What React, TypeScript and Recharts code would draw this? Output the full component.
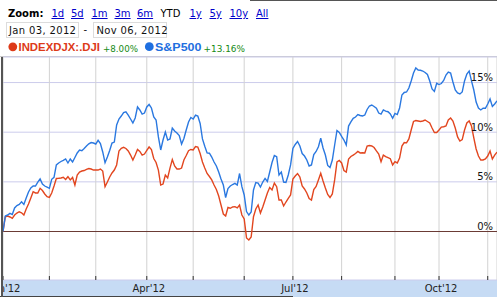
import React from 'react';
import { LineChart, Line, XAxis, YAxis, CartesianGrid, ReferenceLine } from 'recharts';

// Percent change since start, one value per trading session (Jan 3 .. Nov 6, 2012)
const djiValues = [
  0, 1.49, 1.56, 1.46, 1.33, 1.66, 1.86, 1.99, 1.89, 1.66,
  2.27, 2.77, 3.37, 4.01, 3.88, 3.88, 4.35, 4.13, 3.78, 3.5,
  3.44, 3.88, 4.58, 5.34, 5.36, 5.39, 5.46, 5.24, 5.52, 5.19,
  5.44, 4.68, 5.69, 5.99, 6.09, 6.14, 6.26, 6.34, 6.29, 6.19,
  6.19, 6.19, 6.29, 6.09, 4.51, 4.98, 5.49, 5.89, 6.19, 6.7,
  8.11, 8.38, 8.48, 8.36, 8.11, 7.7, 7.2, 7.7, 8.26, 8.06,
  7.7, 7.8, 8.16, 8.51, 8.26, 7.35, 6.95, 6.19, 4.68, 4.78,
  5.69, 5.39, 6.39, 7.25, 6.6, 6.29, 6.29, 6.39, 7.2, 7.65,
  8.14, 8.26, 8.21, 8.56, 8.51, 7.85, 7.0, 6.39, 5.84, 5.54,
  5.19, 4.68, 4.23, 3.58, 2.67, 1.76, 1.56, 2.42, 2.34, 2.47,
  2.5, 2.37, 2.67, 1.66, 1.26, -0.65, -0.86, -0.55, 1.49, 2.27,
  2.67, 1.86, 2.47, 3.17, 3.88, 4.43, 4.18, 4.88, 4.51, 3.17,
  3.17, 2.57, 2.97, 3.34, 3.68, 5.29, 5.59, 5.84, 5.49, 4.58,
  4.28, 3.88, 3.32, 3.17, 4.23, 4.53, 5.19, 5.86, 5.09, 4.38,
  3.73, 3.42, 3.78, 5.19, 7.0, 7.15, 6.9, 6.14, 5.99, 7.3,
  7.55, 7.7, 7.85, 8.06, 7.91, 7.93, 7.91, 8.61, 8.66, 8.61,
  8.46, 8.11, 7.8, 7.03, 7.7, 7.55, 7.45, 7.33, 6.7, 7.03,
  6.9, 7.4, 8.61, 8.96, 8.93, 9.32, 10.22, 11.08, 11.18, 11.13,
  11.08, 11.13, 11.23, 11.08, 10.93, 10.42, 9.97, 9.97, 10.22, 10.52,
  10.55, 10.62, 11.23, 11.43, 11.13, 10.42, 9.52, 9.11, 9.26, 10.22,
  10.93, 11.13, 10.62, 9.42, 8.31, 7.6, 7.2, 7.2, 7.3, 7.6,
  8.11, 7.3, 7.7, 8.0,
];

const spxValues = [
  0, 1.56, 1.66, 1.83, 1.71, 2.37, 2.62, 2.72, 2.99, 2.72,
  3.37, 3.98, 4.38, 4.58, 4.58, 4.98, 5.29, 4.78, 4.58, 4.48,
  4.35, 5.26, 5.46, 6.7, 6.9, 7.05, 7.17, 7.3, 6.9, 7.3,
  7.0, 7.45, 7.91, 8.21, 8.14, 8.36, 8.61, 8.83, 8.96, 8.91,
  8.81, 9.18, 8.86, 8.01, 6.93, 7.5, 8.16, 8.91, 9.01, 10.73,
  11.33, 11.63, 11.98, 12.06, 11.73, 11.33, 10.93, 11.43, 12.54, 12.24,
  11.83, 11.93, 12.54, 12.79, 12.44, 11.53, 11.23, 9.52, 8.21, 9.21,
  10.02, 9.21, 9.32, 10.42, 10.12, 9.92, 9.67, 8.81, 9.37, 10.22,
  11.03, 11.48, 11.33, 11.73, 11.63, 10.88, 9.32, 8.58, 7.91, 7.88,
  7.5, 7.0, 6.6, 5.99, 5.29, 4.68, 3.42, 4.33, 4.58, 4.73,
  4.85, 4.68, 5.84, 4.51, 3.68, 2.01, 1.66, 1.96, 4.18, 4.93,
  4.88, 4.48, 4.98, 5.34, 5.04, 5.99, 6.95, 7.65, 7.53, 5.69,
  5.99, 4.98, 4.93, 5.69, 6.7, 8.36, 8.76, 9.06, 8.61, 7.85,
  7.6, 7.2, 6.6, 6.7, 7.75, 8.06, 8.54, 9.39, 8.41, 7.7,
  6.65, 6.45, 7.2, 8.71, 10.17, 9.97, 9.57, 9.21, 8.71, 10.62,
  11.03, 11.4, 11.53, 11.78, 11.68, 11.63, 11.73, 12.29, 12.64, 12.74,
  12.59, 12.41, 11.93, 11.83, 12.24, 12.13, 12.06, 11.83, 11.4, 11.9,
  11.78, 12.44, 13.75, 14.0, 14.05, 14.45, 15.16, 15.96, 16.47, 16.26,
  16.24, 16.16, 16.01, 15.81, 15.16, 14.35, 14.1, 14.92, 14.8, 14.9,
  15.21, 15.76, 16.06, 15.96, 15.06, 14.25, 13.95, 13.85, 14.05, 15.16,
  15.86, 16.16, 15.16, 14.25, 13.04, 12.44, 12.24, 12.41, 12.41, 12.84,
  13.34, 12.59, 12.84, 13.16,
];

// session index of first trading day of each month
const monthTickDays = [0, 20, 40, 62, 82, 104, 125, 146, 169, 188, 209];
const monthTickLabels: Record<number, string> = { 0: "Jan'12", 62: "Apr'12", 125: "Jul'12", 188: "Oct'12" };
const yTicks = [0, 5, 10, 15];
const zoomLinks = ['1d', '5d', '1m', '3m', '6m', 'YTD', '1y', '5y', '10y', 'All'];
const dateRange = ['Jan 03, 2012', 'Nov 06, 2012'];
const seriesNames = ['INDEXDJX:.DJI', 'S&P500'];
const seriesChanges = ['+8.00%', '+13.16%'];

const data = djiValues.map((v, i) => ({ i, dji: v, spx: spxValues[i] }));

const W = 497;
const H = 297;
const CHART_W = 494;
const RED = '#e2461f';
const BLUE = '#2a78e0';
const FONT = "'DejaVu Sans', Verdana, sans-serif";

const linkXs = [51.5, 71, 91.5, 114.5, 137, 160.5, 189.5, 209.5, 229.5, 256];

const XTick = (props: any) => {
  const { x, y, payload } = props;
  const label = monthTickLabels[payload.value];
  return (
    <g>
      <line x1={x} x2={x} y1={y - 4} y2={y} stroke="#333" strokeWidth={1} />
      {label ? (
        <text x={x + 2} y={y + 12} textAnchor="middle" fontSize={10} fill="#222" fontFamily={FONT}>
          {label}
        </text>
      ) : null}
    </g>
  );
};

const YTick = (props: any) => {
  const { y, payload } = props;
  return (
    <text x={CHART_W - 4} y={y - 1.5} textAnchor="end" fontSize={10} fill="#111" fontFamily={FONT}>
      {`${payload.value}%`}
    </text>
  );
};

export default function App() {
  return (
    <div
      style={{
        position: 'absolute',
        left: 0,
        top: 0,
        width: W,
        height: H,
        background: '#fff',
        overflow: 'hidden',
        fontFamily: FONT,
      }}
    >
      <svg width={W} height={56} style={{ position: 'absolute', left: 0, top: 0 }} fontFamily={FONT}>
        <rect x={250} y={0} width={247} height={1} fill="#555" />
        <text x={8} y={17} fontSize={10} fontWeight="bold" fill="#000">Zoom:</text>
        {zoomLinks.map((l, k) => (
          <text
            key={l}
            x={linkXs[k]}
            y={17}
            fontSize={10}
            fill={l === 'YTD' ? '#000' : '#0000cc'}
            textDecoration={l === 'YTD' ? 'none' : 'underline'}
          >
            {l}
          </text>
        ))}
        <rect x={6.5} y={22.5} width={72} height={15} fill="#fff" stroke="#dcdcdc" />
        <text x={9} y={33.5} fontSize={10} letterSpacing={0.35} fill="#111">{dateRange[0]}</text>
        <text x={83.5} y={33} fontSize={10} fill="#111">-</text>
        <rect x={93.5} y={22.5} width={73} height={15} fill="#fff" stroke="#dcdcdc" />
        <text x={96.5} y={33.5} fontSize={10} letterSpacing={0.35} fill="#111">{dateRange[1]}</text>
        <circle cx={12.8} cy={46.8} r={4.4} fill="#dd3a18" />
        <text
          x={18.5}
          y={51}
          fontSize={11.5}
          fontWeight="bold"
          fontFamily="'Liberation Sans', Arial, sans-serif"
          fill="#dd3a18"
          textLength={81.5}
          lengthAdjust="spacingAndGlyphs"
        >
          {seriesNames[0]}
        </text>
        <text x={103} y={51.5} fontSize={9} fill="#148a14" textLength={35} lengthAdjust="spacingAndGlyphs">
          {seriesChanges[0]}
        </text>
        <circle cx={149.3} cy={46.7} r={4.4} fill="#1f6fe0" />
        <text
          x={155}
          y={51}
          fontSize={11.5}
          fontWeight="bold"
          fontFamily="'Liberation Sans', Arial, sans-serif"
          fill="#1f6fe0"
          textLength={46.5}
          lengthAdjust="spacingAndGlyphs"
        >
          {seriesNames[1]}
        </text>
        <text x={203.5} y={51.5} fontSize={9} fill="#148a14" textLength={41.5} lengthAdjust="spacingAndGlyphs">
          {seriesChanges[1]}
        </text>
      </svg>
      <div style={{ position: 'absolute', left: 0, top: 56, width: W, height: 1, background: '#c9c9c9' }} />
      <div style={{ position: 'absolute', left: 3, top: 280, width: CHART_W, height: 17, background: '#c6dbf4' }} />
      <div style={{ position: 'absolute', left: 0, top: 296, width: 293, height: 1, background: '#444' }} />
      <div style={{ position: 'absolute', left: 1, top: 57, width: 2, height: 240, background: '#555' }} />
      <div style={{ position: 'absolute', left: 3, top: 0 }}>
        <LineChart width={CHART_W} height={H} data={data} margin={{ top: 57, right: 0, bottom: 0, left: 0 }}>
          <CartesianGrid vertical={false} stroke="#ccccec" />
          <CartesianGrid horizontal={false} stroke="#d2d2d2" />
          <XAxis
            dataKey="i"
            type="number"
            domain={[0, 213]}
            ticks={monthTickDays}
            interval={0}
            height={17}
            tickSize={0}
            tickMargin={0}
            axisLine={false}
            tickLine={false}
            tick={<XTick />}
            allowDataOverflow
          />
          <YAxis
            type="number"
            domain={[-4.884, 17.573]}
            ticks={yTicks}
            orientation="right"
            mirror
            width={30}
            axisLine={false}
            tickLine={false}
            tick={<YTick />}
            allowDataOverflow
          />
          <ReferenceLine y={0} stroke="#6b3b35" strokeWidth={1} />
          <Line type="linear" dataKey="dji" stroke={RED} strokeWidth={1.4} dot={false} isAnimationActive={false} />
          <Line type="linear" dataKey="spx" stroke={BLUE} strokeWidth={1.4} dot={false} isAnimationActive={false} />
        </LineChart>
      </div>
    </div>
  );
}
